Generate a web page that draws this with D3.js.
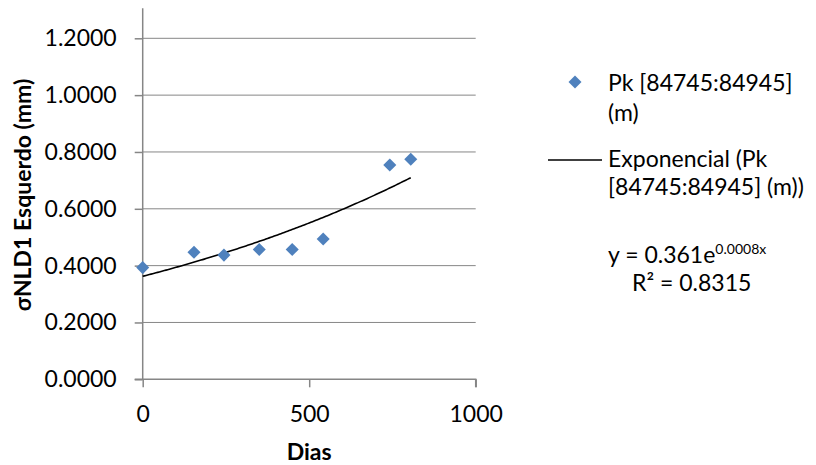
<!DOCTYPE html>
<html>
<head>
<meta charset="utf-8">
<script src="https://cdn.jsdelivr.net/npm/d3@7"></script>
<style>
  html, body { margin: 0; padding: 0; background: #fff; }
  svg { display: block; }
  text { font-family: Lato, "Open Sans", sans-serif; fill: #000; }
</style>
</head>
<body>
<svg id="chart" width="816" height="465"></svg>
<script>
// Measured days and σNLD1 (left) values
const days = [0, 154, 244, 350, 449, 542, 742, 805];
const sigma = [0.393, 0.447, 0.437, 0.457, 0.457, 0.494, 0.754, 0.774];
const yTicks = [0, 0.2, 0.4, 0.6, 0.8, 1.0, 1.2];
const xTicks = [0, 500, 1000];
const seriesName = ["Pk [84745:84945]", "(m)"];
const trendName = ["Exponencial (Pk", "[84745:84945] (m))"];

const FS = "23px";
const svg = d3.select("#chart");
const x = d3.scaleLinear().domain([0, 1000]).range([142.7, 475.7]);
const y = d3.scaleLinear().domain([0, 1.2]).range([379.3, 38.3]);
const axisColor = "#868686";

// horizontal gridlines
svg.append("g").selectAll("line").data(yTicks.filter(d => d > 0)).join("line")
  .attr("x1", x(0)).attr("x2", x(1000))
  .attr("y1", d => y(d)).attr("y2", d => y(d))
  .attr("stroke", axisColor).attr("stroke-width", 1);

// y axis
const yAxis = svg.append("g").attr("transform", `translate(${x(0)},0)`)
  .call(d3.axisLeft(y).tickValues(yTicks).tickFormat(d3.format(".4f")).tickSize(8).tickPadding(18));
// x axis
const xAxis = svg.append("g").attr("transform", `translate(0,${y(0)})`)
  .call(d3.axisBottom(x).tickValues(xTicks).tickFormat(d3.format("d")).tickSize(8).tickPadding(18));
[yAxis, xAxis].forEach(g => {
  g.select(".domain").attr("stroke", axisColor).attr("stroke-width", 1.5);
  g.selectAll(".tick line").attr("stroke", axisColor).attr("stroke-width", 1.5);
  g.selectAll(".tick text").style("font-size", FS).style("font-family", "Lato, sans-serif").attr("fill", "#000");
});
// extend axis lines a little beyond the plot edge like the frame
yAxis.select(".domain").attr("d", `M0,${y(0)}V${y(1.2) - 30}`);
xAxis.select(".domain").attr("d", `M${x(0) - 8},0H${x(1000)}V8`);

// exponential least-squares fit on ln(y)
const ln = sigma.map(Math.log);
const mx = d3.mean(days), my = d3.mean(ln);
const b = d3.sum(days, (d, i) => (d - mx) * (ln[i] - my)) / d3.sum(days, d => (d - mx) ** 2);
const a = Math.exp(my - b * mx);
const curveX = d3.range(0, d3.max(days) + 1, 5);
svg.append("path")
  .datum(curveX)
  .attr("fill", "none").attr("stroke", "#000").attr("stroke-width", 1.6)
  .attr("d", d3.line().x(d => x(d)).y(d => y(a * Math.exp(b * d))));

// diamond markers
const diamond = d3.symbol().type(d3.symbolSquare).size(85);
svg.append("g").selectAll("path").data(days).join("path")
  .attr("d", diamond())
  .attr("transform", (d, i) => `translate(${x(d)},${y(sigma[i])}) rotate(45)`)
  .attr("fill", "#4F81BD");

// axis titles
svg.append("text").attr("x", x(500)).attr("y", 460).attr("text-anchor", "middle")
  .style("font-size", FS).style("font-weight", "bold").text("Dias");
svg.append("text").attr("transform", `translate(31,195) rotate(-90)`)
  .attr("text-anchor", "middle")
  .style("font-size", FS).style("font-weight", "bold").text("σNLD1 Esquerdo (mm)");

// legend: each entry is one wrapped text block
const lg = svg.append("g");
lg.append("path").attr("d", diamond()).attr("transform", "translate(575,82) rotate(45)").attr("fill", "#4F81BD");
const t1 = lg.append("text").attr("y", 91).style("font-size", FS);
seriesName.forEach((t, i) => t1.append("tspan").attr("x", 608).attr("dy", i ? 30 : 0).text(t));

lg.append("line").attr("x1", 548).attr("x2", 602).attr("y1", 160).attr("y2", 160).attr("stroke", "#000").attr("stroke-width", 1.6);
const t2 = lg.append("text").attr("y", 167).style("font-size", FS);
trendName.forEach((t, i) => t2.append("tspan").attr("x", 608).attr("dy", i ? 28 : 0).text(t));

// trendline equation and R²
const eq = lg.append("text").attr("y", 263).style("font-size", FS);
eq.append("tspan").attr("x", 608).text("y = 0.361e");
eq.append("tspan").attr("dy", -9).style("font-size", "14px").text("0.0008x");
eq.append("tspan").attr("x", 632).attr("dy", 37).text("R² = 0.8315");
</script>
</body>
</html>
